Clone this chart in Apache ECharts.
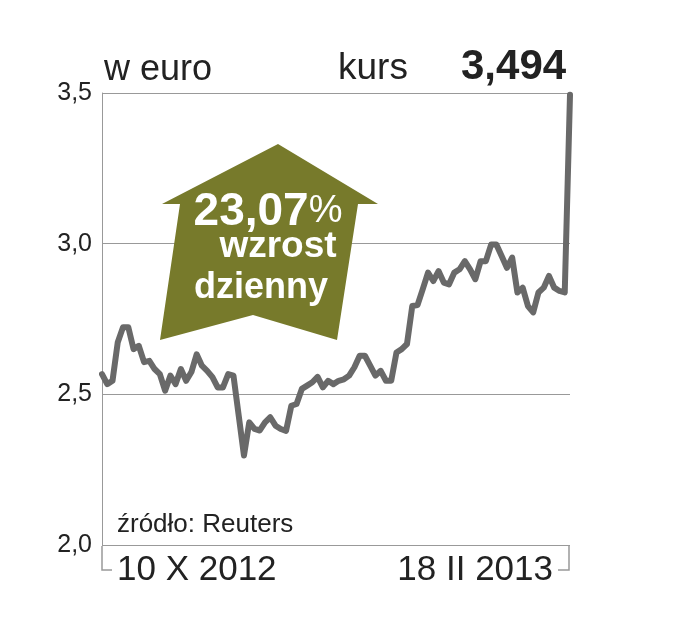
<!DOCTYPE html>
<html>
<head>
<meta charset="utf-8">
<script src="https://cdn.jsdelivr.net/npm/echarts@6/dist/echarts.min.js"></script>
<style>html,body{margin:0;padding:0;background:#fff}#c{width:674px;height:619px}</style>
</head>
<body>
<div id="c"></div>
<script>
// ---- data ----
var prices = [2.567, 2.534, 2.545, 2.673, 2.723, 2.723, 2.65, 2.661, 2.607, 2.611, 2.584, 2.567, 2.512, 2.562, 2.534, 2.584, 2.545, 2.574, 2.633, 2.595, 2.578, 2.557, 2.523, 2.523, 2.567, 2.562, 2.429, 2.297, 2.407, 2.385, 2.38, 2.407, 2.424, 2.396, 2.385, 2.379, 2.462, 2.468, 2.518, 2.529, 2.54, 2.558, 2.523, 2.545, 2.534, 2.545,
  2.55, 2.562, 2.59, 2.628, 2.628, 2.595, 2.562, 2.578, 2.545, 2.545, 2.639, 2.65, 2.667, 2.793, 2.796, 2.849, 2.904, 2.876, 2.909, 2.871, 2.865, 2.904, 2.915, 2.942, 2.915, 2.882, 2.942, 2.942, 2.997, 2.997, 2.959, 2.92, 2.954, 2.838, 2.854, 2.793, 2.772, 2.838, 2.854, 2.893, 2.854, 2.843, 2.838, 3.494];
var days = prices.map(function (v, i) { return i; });
var dateLabels = ['10 X 2012', '18 II 2013'];
var yTicks = [2.0, 2.5, 3.0, 3.5];
var unitLabel = 'w euro';
var lastLabel = 'kurs';
var lastValue = '3,494';
var changeText = '23,07';
var changeLines = ['wzrost', 'dzienny'];
var sourceText = 'źródło: Reuters';

var chart = echarts.init(document.getElementById('c'), null, {renderer: 'canvas'});
var SANS = "'Liberation Sans',Arial,sans-serif";
var gray = '#999999';

chart.setOption({
  animation: false,
  backgroundColor: '#ffffff',
  grid: {left: 102, right: 104, top: 93, bottom: 74},
  xAxis: {
    type: 'category', data: days, boundaryGap: false,
    axisLine: {show: false}, axisTick: {show: false}, axisLabel: {show: false}, splitLine: {show: false}
  },
  yAxis: {
    type: 'value', min: yTicks[0], max: yTicks[yTicks.length - 1], interval: 0.5,
    axisLine: {show: true, lineStyle: {color: gray, width: 1}},
    axisTick: {show: false},
    axisLabel: {
      margin: 10, color: '#222', fontFamily: SANS, fontSize: 25,
      formatter: function (v) { return v.toFixed(1).replace('.', ','); }
    },
    splitLine: {show: true, lineStyle: {color: gray, width: 1}}
  },
  series: [{
    type: 'line', data: prices, showSymbol: false,
    lineStyle: {color: '#696969', width: 6, cap: 'round', join: 'round'},
    z: 3
  }],
  graphic: [
    {type: 'polyline', shape: {points: [[102, 546], [102, 570], [112, 570]]}, style: {stroke: gray, lineWidth: 1.5, fill: null}},
    {type: 'polyline', shape: {points: [[569, 546], [569, 570], [558, 570]]}, style: {stroke: gray, lineWidth: 1.5, fill: null}},
    {type: 'text', left: 104, top: 52, style: {text: unitLabel, font: '36px ' + SANS, fill: '#222'}},
    {type: 'text', left: 338, top: 50, style: {text: lastLabel, font: '37px ' + SANS, fill: '#222'}},
    {type: 'text', left: 461, top: 46, style: {text: lastValue, font: 'bold 42px ' + SANS, fill: '#222'}},
    {type: 'text', x: 117, y: 525, style: {text: sourceText, font: '26px ' + SANS, fill: '#222', verticalAlign: 'middle'}},
    {type: 'text', x: 117, y: 570, style: {text: dateLabels[0], font: '35px ' + SANS, fill: '#222', verticalAlign: 'middle'}},
    {type: 'text', x: 553, y: 570, style: {text: dateLabels[1], font: '35px ' + SANS, fill: '#222', align: 'right', verticalAlign: 'middle'}},
    {type: 'polygon', z: 10, shape: {points: [[278, 144], [378, 204], [358, 204], [337, 340], [253, 315], [160, 340], [180, 204], [162, 204]]}, style: {fill: '#777a2b'}},
    {type: 'text', z: 11, x: 268, y: 212, style: {
      rich: {a: {font: 'bold 46px ' + SANS, fill: '#fff'}, b: {font: '38px ' + SANS, fill: '#fff'}},
      text: '{a|' + changeText + '}{b|%}', align: 'center', verticalAlign: 'middle'}},
    {type: 'text', z: 11, x: 278, y: 247, style: {text: changeLines[0], font: 'bold 37px ' + SANS, fill: '#fff', align: 'center', verticalAlign: 'middle'}},
    {type: 'text', z: 11, x: 261, y: 288, style: {text: changeLines[1], font: 'bold 36px ' + SANS, fill: '#fff', align: 'center', verticalAlign: 'middle'}}
  ]
});
</script>
</body>
</html>
